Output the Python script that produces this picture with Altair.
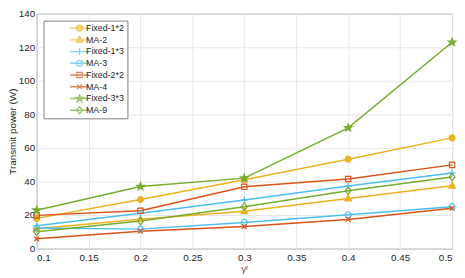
import math
import altair as alt
import pandas as pd

# ---- data ----
gamma = [0.1, 0.2, 0.3, 0.4, 0.5]
series_names = ["Fixed-1*2", "MA-2", "Fixed-1*3", "MA-3", "Fixed-2*2", "MA-4", "Fixed-3*3", "MA-9"]
fixed_1x2 = [18.0, 29.3, 41.0, 53.3, 66.0]
ma_2 = [11.8, 17.5, 22.3, 29.9, 37.5]
fixed_1x3 = [13.6, 21.0, 29.0, 37.3, 45.0]
ma_3 = [12.3, 11.6, 15.6, 20.2, 25.0]
fixed_2x2 = [19.8, 22.5, 36.8, 41.5, 49.9]
ma_4 = [5.8, 10.3, 13.1, 17.3, 24.0]
fixed_3x3 = [22.9, 37.0, 42.0, 72.0, 123.0]
ma_9 = [10.0, 16.4, 25.0, 34.5, 42.7]
all_values = [fixed_1x2, ma_2, fixed_1x3, ma_3, fixed_2x2, ma_4, fixed_3x3, ma_9]

x_ticks = [0.1, 0.15, 0.2, 0.25, 0.3, 0.35, 0.4, 0.45, 0.5]
y_ticks = [0, 20, 40, 60, 80, 100, 120, 140]

# ---- styles ----
ORANGE = "#EDB120"
BLUE = "#4DBEEE"
RED = "#D95319"
GREEN = "#77AC30"
stroke_colors = [ORANGE, ORANGE, BLUE, BLUE, RED, RED, GREEN, GREEN]
fill_colors = [ORANGE, ORANGE, "transparent", "transparent", "transparent", "transparent", GREEN, "transparent"]


def star_path():
    pts = []
    for i in range(10):
        ang = math.radians(-90 + 36 * i)
        r = 1.35 if i % 2 == 0 else 0.52
        pts.append(f"{r*math.cos(ang):.3f},{r*math.sin(ang):.3f}")
    return "M" + "L".join(pts) + "Z"


CIRCLE = "M-1,0A1,1 0 1,0 1,0A1,1 0 1,0 -1,0Z"
TRIANGLE = "M0,-1.2L1.1,0.8L-1.1,0.8Z"
PLUS = "M-1.1,0L1.1,0M0,-1.1L0,1.1"
SQUARE = "M-0.9,-0.9L0.9,-0.9L0.9,0.9L-0.9,0.9Z"
XMARK = "M-0.8,-0.8L0.8,0.8M-0.8,0.8L0.8,-0.8"
STAR = star_path()
DIAMOND = "M0,-1.25L1,0L0,1.25L-1,0Z"
marker_paths = [CIRCLE, TRIANGLE, PLUS, CIRCLE, SQUARE, XMARK, STAR, DIAMOND]
LEGEND_LINE = "M-3.2,0L3.2,0"
legend_paths = [LEGEND_LINE + p for p in marker_paths]

rows = []
for name, vals in zip(series_names, all_values):
    for g, v in zip(gamma, vals):
        rows.append({"gamma": g, "power": v, "series": name})
df = pd.DataFrame(rows)

FONT = "Liberation Sans"

x_enc = alt.X(
    "gamma:Q",
    scale=alt.Scale(domain=[0.1, 0.5], nice=False),
    axis=alt.Axis(values=x_ticks, format="~g", title="γʳ", titlePadding=1, labelPadding=4,
                  titleColor="#4d4d4d", titleFontWeight="normal"),
)
y_enc = alt.Y(
    "power:Q",
    scale=alt.Scale(domain=[0, 140], nice=False),
    axis=alt.Axis(values=y_ticks, title="Transmit power (W)", titleX=-19.5, labelPadding=2,
                  titleFontWeight="normal"),
)

base = alt.Chart(df)

lines = base.mark_line(strokeWidth=1.5).encode(
    x=x_enc,
    y=y_enc,
    color=alt.Color("series:N", scale=alt.Scale(domain=series_names, range=stroke_colors), legend=None),
    order=alt.Order("gamma:Q"),
)

points = base.mark_point(filled=False, size=36, strokeWidth=1.2, opacity=1).encode(
    x=x_enc,
    y=y_enc,
    stroke=alt.Stroke("series:N", scale=alt.Scale(domain=series_names, range=stroke_colors), legend=None),
    fill=alt.Fill("series:N", scale=alt.Scale(domain=series_names, range=fill_colors), legend=None),
    shape=alt.Shape("series:N", scale=alt.Scale(domain=series_names, range=marker_paths), legend=None),
)

legend_kw = dict(title=None, orient="top-left", offset=7, padding=3,
                 fillColor="white", strokeColor="#808080",
                 labelFont=FONT, labelFontSize=9, labelColor="#262626",
                 labelExpr="datum.label + '\u00a0\u00a0\u00a0\u00a0\u00a0\u00a0'",
                 symbolSize=36, symbolStrokeWidth=1.3, labelOffset=2,
                 symbolOffset=29, rowPadding=1.9, clipHeight=9)

legend_layer = base.transform_filter("datum.gamma < 0").mark_point(
    filled=False, size=36, strokeWidth=1.3
).encode(
    x=x_enc,
    y=y_enc,
    stroke=alt.Stroke("series:N", scale=alt.Scale(domain=series_names, range=stroke_colors),
                      legend=alt.Legend(**legend_kw)),
    fill=alt.Fill("series:N", scale=alt.Scale(domain=series_names, range=fill_colors),
                  legend=alt.Legend(**legend_kw)),
    shape=alt.Shape("series:N", scale=alt.Scale(domain=series_names, range=legend_paths),
                    legend=alt.Legend(**legend_kw)),
)

chart = alt.layer(lines, points, legend_layer).resolve_scale(
    color="independent", stroke="independent", fill="independent", shape="independent"
).properties(
    width=421,
    height=238,
    autosize=alt.AutoSizeParams(type="none"),
    padding={"left": 29, "top": 4, "right": 5, "bottom": 28},
).configure_view(
    stroke="#8a8a8a", strokeWidth=1
).configure_axis(
    labelFont=FONT, titleFont=FONT, labelFontSize=10, titleFontSize=10,
    labelColor="#262626", titleColor="#262626",
    gridColor="#e8e8e8", gridWidth=1, domain=False, ticks=False,
)

chart.save("out.html", embed_options={"renderer": "svg", "actions": False})
